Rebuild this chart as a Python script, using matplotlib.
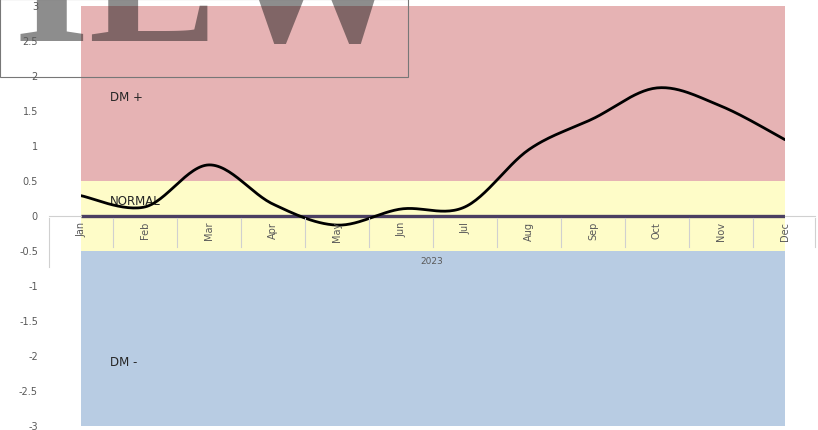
import numpy as np
import matplotlib
matplotlib.use("Agg")
import matplotlib.pyplot as plt
from matplotlib.patches import Rectangle

months = ["Jan", "Feb", "Mar", "Apr", "May", "Jun", "Jul", "Aug", "Sep", "Oct", "Nov", "Dec"]
values = [0.29, 0.13, 0.73, 0.17, -0.13, 0.10, 0.13, 0.95, 1.39, 1.83, 1.57, 1.09]
year_label = "2023"
y_ticks = [3, 2.5, 2, 1.5, 1, 0.5, 0, -0.5, -1, -1.5, -2, -2.5, -3]
bands = [(0.5, 3.0, "#E6B3B4", "DM +", 1.71),
         (-0.5, 0.5, "#FEFCC8", "NORMAL", 0.22),
         (-3.0, -0.5, "#B8CCE3", "DM -", -2.08)]

W, H = 818, 431
fig = plt.figure(figsize=(W / 100, H / 100), dpi=100)
x0, x1 = 81, 785
y_top, y_bot = 7, 427
ax = fig.add_axes([x0 / W, (H - y_bot) / H, (x1 - x0) / W, (y_bot - y_top) / H])
ax.set_xlim(0, len(months) - 1)
ax.set_ylim(-3, 3)
ax.axis("off")

for lo, hi, col, lab, ly in bands:
    ax.add_patch(Rectangle((0, lo), len(months) - 1, hi - lo, facecolor=col, edgecolor="none", zorder=0))
    ax.text(0.45, ly, lab, fontsize=8.5, color="#262626", va="center", ha="left", zorder=3)

ax.plot([0, len(months) - 1], [0, 0], color="#4B3F62", lw=2.4, zorder=2, solid_capstyle="butt")

# smoothed line (Catmull-Rom style Bezier like spreadsheet smoothing)
xs = np.arange(len(values), dtype=float)
ys = np.array(values, dtype=float)
px, py = [], []
n = len(xs)
t = np.linspace(0, 1, 30)
for i in range(n - 1):
    p0 = np.array([xs[max(i - 1, 0)], ys[max(i - 1, 0)]])
    p1 = np.array([xs[i], ys[i]])
    p2 = np.array([xs[i + 1], ys[i + 1]])
    p3 = np.array([xs[min(i + 2, n - 1)], ys[min(i + 2, n - 1)]])
    c1 = p1 + (p2 - p0) / 6
    c2 = p2 - (p3 - p1) / 6
    pts = ((1 - t) ** 3)[:, None] * p1 + (3 * (1 - t) ** 2 * t)[:, None] * c1 + \
          (3 * (1 - t) * t ** 2)[:, None] * c2 + (t ** 3)[:, None] * p2
    px.extend(pts[:, 0]); py.extend(pts[:, 1])
ax.plot(px, py, color="black", lw=2.0, zorder=4, solid_capstyle="round")

# y tick labels
def yp(v):
    return y_top + (3 - v) / 6 * (y_bot - y_top)

for v in y_ticks:
    s = ("%g" % v)
    fig.text(38 / W, 1 - yp(v) / H, s, ha="right", va="center", fontsize=7, color="#595959", zorder=12)

# category axis box
gray = "#D0D0D0"
y0px = yp(0)
fig.add_artist(plt.Line2D([49 / W, x0 / W], [1 - y0px / H] * 2, color=gray, lw=0.8))
fig.add_artist(plt.Line2D([x1 / W, 815 / W], [1 - y0px / H] * 2, color=gray, lw=0.8))
for i in range(len(months) + 1):
    xp = x0 + (i - 0.5) * (x1 - x0) / (len(months) - 1)
    xp = min(xp, 815)
    ybot = 268 if i == 0 else 248
    fig.add_artist(plt.Line2D([xp / W] * 2, [1 - (y0px + 1.5) / H, 1 - ybot / H], color=gray, lw=0.8))
for i, m in enumerate(months):
    xp = x0 + i * (x1 - x0) / (len(months) - 1)
    fig.text(xp / W, 1 - 222 / H, m, rotation=90, ha="center", va="top", fontsize=7, color="#595959")
fig.text(432 / W, 1 - 262 / H, year_label, ha="center", va="center", fontsize=6.5, color="#595959")

# watermark
fig.text(14 / W, 1 - 41 / H, "IEW", fontsize=140, family="Liberation Serif", weight="bold",
         color="#111111", alpha=0.48, ha="left", va="baseline", zorder=10)
fig.add_artist(Rectangle((0, 1 - 78 / H), 408 / W, 78 / H, transform=fig.transFigure,
                         fill=False, edgecolor="#777777", lw=0.8, zorder=11))

fig.savefig("out.png", dpi=100)
